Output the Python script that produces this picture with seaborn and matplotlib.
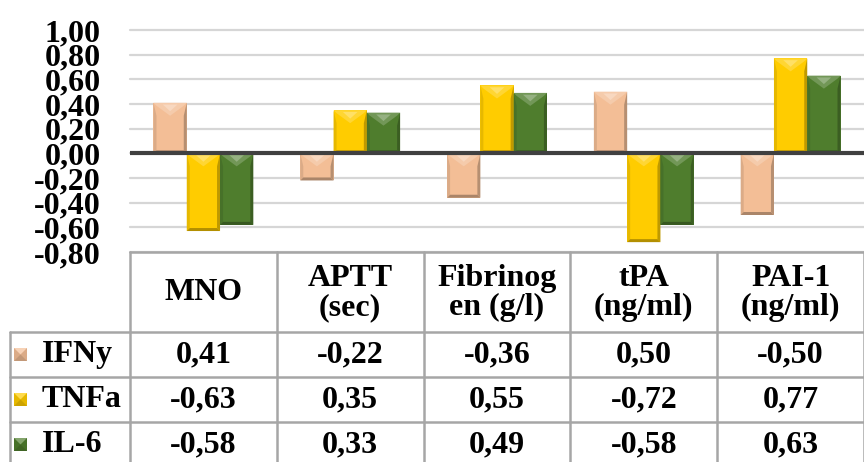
import numpy as np
import pandas as pd
import matplotlib
matplotlib.use("Agg")
import matplotlib.pyplot as plt
from matplotlib.patches import Polygon, Rectangle
from matplotlib.colors import to_rgb
import seaborn as sns

# ---- data -------------------------------------------------------------
categories = ["MNO", "APTT", "Fibrinogen", "tPA", "PAI-1"]
header_labels = ["MNO", "APTT\n(sec)", "Fibrinog\nen (g/l)", "tPA\n(ng/ml)", "PAI-1\n(ng/ml)"]
series = ["IFNy", "TNFa", "IL-6"]
ifny = [0.41, -0.22, -0.36, 0.50, -0.50]
tnfa = [-0.63, 0.35, 0.55, -0.72, 0.77]
il6 = [-0.58, 0.33, 0.49, -0.58, 0.63]
y_ticks = [-0.80, -0.60, -0.40, -0.20, 0.00, 0.20, 0.40, 0.60, 0.80, 1.00]

colors = {"IFNy": "#F3BE96", "TNFa": "#FFCC00", "IL-6": "#4F7D2D"}

values = {"IFNy": ifny, "TNFa": tnfa, "IL-6": il6}
df = pd.DataFrame(
    [(c, s, v) for s in series for c, v in zip(categories, values[s])],
    columns=["category", "series", "value"],
)

sns.set_theme(style="white")
plt.rcParams["font.family"] = ["Liberation Serif", "DejaVu Serif"]
plt.rcParams["font.weight"] = "bold"

W, H = 864, 462
fig = plt.figure(figsize=(W / 100, H / 100), dpi=100)
fig.patch.set_facecolor("white")


def fx(px):
    return px / W


def fy(py):
    return 1 - py / H


# plot area geometry (pixels from top-left)
left, right = 130, 864
y_top_val, y_bot_val = 1.0, -0.8
top_px, bot_px = 30, 252
ax = fig.add_axes([fx(left), fy(bot_px), (right - left) / W, (bot_px - top_px) / H])

sns.barplot(
    data=df, x="category", y="value", hue="series", order=categories,
    hue_order=series, palette=colors, saturation=1, width=0.68,
    ax=ax, legend=False, linewidth=0, zorder=3,
)
ax.set_xlim(-0.5, len(categories) - 0.5)
ax.set_ylim(y_bot_val, y_top_val)
ax.set_yticks(y_ticks)
ax.set_yticklabels([f"{v:.2f}".replace(".", ",") for v in y_ticks],
                   fontsize=23, fontweight="bold", color="black")
ax.tick_params(axis="y", length=0, pad=21)
ax.set_xticks([])
ax.set_xlabel("")
ax.set_ylabel("")
for sp in ax.spines.values():
    sp.set_visible(False)
ax.yaxis.grid(True, color="#D6D6D6", lw=1.6, zorder=0)
ax.set_axisbelow(True)
for gl in ax.get_ygridlines():
    gl.set_clip_on(False)
ax.axhline(0, color="#404040", lw=3, zorder=6)


def mix(c, t, amt):
    c = np.array(to_rgb(c))
    t = np.array(to_rgb(t))
    return tuple(c + (t - c) * amt)


# bevel shading on each bar, derived from the patch geometry
px_per_x = (right - left) / len(categories)
px_per_y = (bot_px - top_px) / (y_top_val - y_bot_val)
for patch in list(ax.patches):
    x0, y0 = patch.get_x(), patch.get_y()
    w, h = patch.get_width(), patch.get_height()
    if h < 0:
        y0, h = y0 + h, -h
    x1, y1 = x0 + w, y0 + h
    base = patch.get_facecolor()[:3]
    dx = 3 / px_per_x
    dy = 3 / px_per_y
    ty = min(13 / px_per_y, h * 0.5)
    # side and bottom shading
    ax.add_patch(Polygon([(x1, y1), (x1, y0), (x1 - dx, y0 + dy), (x1 - dx, y1 - ty)],
                         closed=True, color=mix(base, "black", 0.25), lw=0, zorder=4))
    ax.add_patch(Polygon([(x0, y1), (x0, y0), (x0 + dx, y0 + dy), (x0 + dx, y1 - ty)],
                         closed=True, color=mix(base, "black", 0.1), lw=0, zorder=4))
    ax.add_patch(Polygon([(x0, y0), (x1, y0), (x1 - dx, y0 + dy), (x0 + dx, y0 + dy)],
                         closed=True, color=mix(base, "black", 0.3), lw=0, zorder=4))
    # top highlight wedge
    ax.add_patch(Polygon([(x0, y1), (x1, y1), (x1 - dx, y1 - dy), (x0 + w / 2, y1 - ty), (x0 + dx, y1 - dy)],
                         closed=True, color=mix(base, "white", 0.2), lw=0, zorder=4))
    ax.add_patch(Polygon([(x0 + w * 0.28, y1 - dy * 0.6), (x1 - w * 0.28, y1 - dy * 0.6), (x0 + w / 2, y1 - ty * 0.65)],
                         closed=True, color=mix(base, "white", 0.4), lw=0, zorder=4))

# ---- data table beneath the plot ------------------------------------
grid_c = "#A6A6A6"
lw_t = 1.8
col_w = (right - left) / len(categories)
col_edges = [left + i * col_w for i in range(len(categories) + 1)]
header_top, header_bot = 252, 332
row_h = 45
row_edges = [header_bot + i * row_h for i in range(len(series) + 1)]
label_left = 10


def hline(y, x0, x1):
    fig.add_artist(plt.Line2D([fx(x0), fx(x1)], [fy(y), fy(y)], color=grid_c, lw=lw_t))


def vline(x, y0, y1):
    fig.add_artist(plt.Line2D([fx(x), fx(x)], [fy(y0), fy(y1)], color=grid_c, lw=lw_t))


hline(header_top, left, right)
for y in row_edges:
    hline(y, label_left, right)
vline(label_left, header_bot, H + 5)
for x in col_edges:
    vline(x, header_top, H + 5)

txt_kw = dict(fontsize=23, fontweight="bold", color="black", ha="center", va="center",
              linespacing=1.02)
for i, lab in enumerate(header_labels):
    fig.text(fx((col_edges[i] + col_edges[i + 1]) / 2), fy((header_top + header_bot) / 2 + 1), lab, **txt_kw)

for r, s in enumerate(series):
    yc = (row_edges[r] + row_edges[r + 1]) / 2
    for i, v in enumerate(values[s]):
        fig.text(fx((col_edges[i] + col_edges[i + 1]) / 2), fy(yc), f"{v:.2f}".replace(".", ","), **txt_kw)
    # legend key with small bevel
    k0, k1 = 14, 27
    base = to_rgb(colors[s])
    fig.add_artist(Rectangle((fx(k0), fy(yc + 6.5)), fx(k1 - k0), (13 / H),
                             color=mix(base, "black", 0.1), lw=0))
    fig.add_artist(Polygon([(fx(k0), fy(yc - 6.5)), (fx(k1), fy(yc - 6.5)), (fx((k0 + k1) / 2), fy(yc))],
                           closed=True, color=mix(base, "white", 0.3), lw=0))
    fig.add_artist(Polygon([(fx(k0), fy(yc + 6.5)), (fx(k1), fy(yc + 6.5)), (fx((k0 + k1) / 2), fy(yc))],
                           closed=True, color=mix(base, "black", 0.2), lw=0))
    fig.text(fx(42), fy(yc), s, fontsize=23, fontweight="bold", color="black", ha="left", va="center")

fig.savefig("out.png", dpi=100, facecolor="white")
